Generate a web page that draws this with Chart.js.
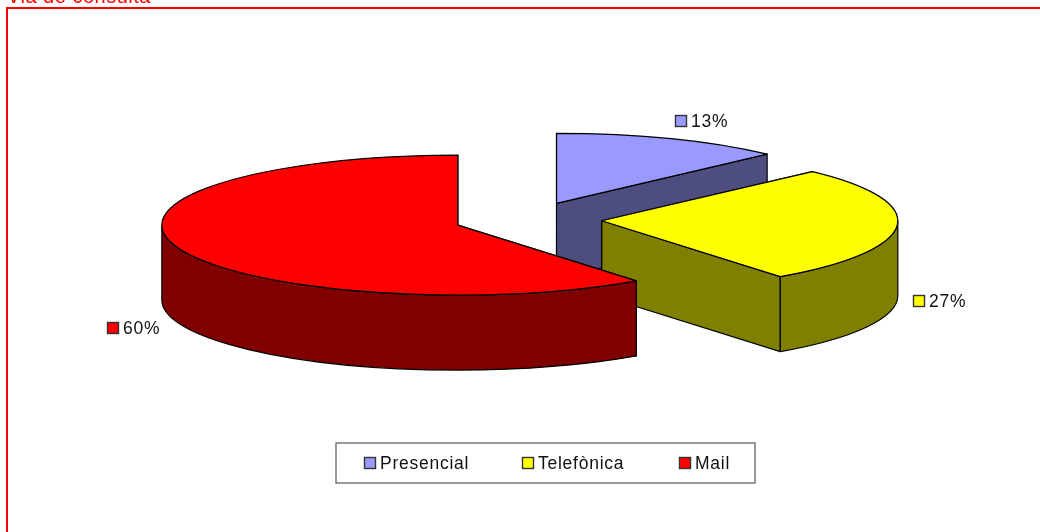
<!DOCTYPE html>
<html>
<head>
<meta charset="utf-8">
<title>Via de consulta</title>
<script src="https://cdn.jsdelivr.net/npm/chart.js@4"></script>
<style>
  html, body { margin: 0; padding: 0; background: #fff; overflow: hidden; }
  canvas { display: block; }
</style>
</head>
<body>
<canvas id="chart" width="1040" height="532"></canvas>
<script>
const chartTitle = 'Via de consulta';
const categories = ['Presencial', 'Telefònica', 'Mail'];
const shares = [12.6, 27.1, 60.3];
const topColors = ['#9999FF', '#FFFF00', '#FF0000'];
const sideColors = ['#4D4D80', '#808000', '#800000'];

// the squashed 3d look of the pie
const tilt = 0.2365;
const depth = 75;
const FONT = '17.5px "Liberation Sans", Arial, sans-serif';

// top left corner of the marker next to each percentage
const labelSpots = [[675, 115], [913, 295], [107, 322]];
const legendSpots = [364, 522, 679];

function marker(ctx, x, y, color) {
  ctx.fillStyle = color;
  ctx.fillRect(x, y, 12, 12);
  ctx.strokeStyle = '#333';
  ctx.lineWidth = 1.4;
  ctx.strokeRect(x + 0.5, y + 0.5, 11, 11);
}

function drawSlice(ctx, arc, i) {
  const { startAngle, endAngle, outerRadius: r } = arc;
  const off = arc.options.offset;
  const mid = (startAngle + endAngle) / 2;
  const cx = arc.x + off * Math.cos(mid);
  const cy = arc.y + tilt * off * Math.sin(mid);
  const px = a => cx + r * Math.cos(a);
  const py = a => cy + tilt * r * Math.sin(a);

  ctx.strokeStyle = '#000';
  ctx.lineWidth = 1.2;
  ctx.lineJoin = 'round';

  // cut faces
  [startAngle, endAngle].forEach(a => {
    ctx.beginPath();
    ctx.moveTo(cx, cy);
    ctx.lineTo(px(a), py(a));
    ctx.lineTo(px(a), py(a) + depth);
    ctx.lineTo(cx, cy + depth);
    ctx.closePath();
    ctx.fillStyle = sideColors[i];
    ctx.fill();
    ctx.stroke();
  });

  // outer wall, only the part that faces the viewer
  const from = Math.max(startAngle, 0);
  const to = Math.min(endAngle, Math.PI);
  if (to > from) {
    ctx.beginPath();
    ctx.ellipse(cx, cy, r, tilt * r, 0, from, to);
    ctx.ellipse(cx, cy + depth, r, tilt * r, 0, to, from, true);
    ctx.closePath();
    ctx.fillStyle = sideColors[i];
    ctx.fill();
    ctx.stroke();
  }

  // top
  ctx.beginPath();
  ctx.moveTo(cx, cy);
  ctx.ellipse(cx, cy, r, tilt * r, 0, startAngle, endAngle);
  ctx.closePath();
  ctx.fillStyle = topColors[i];
  ctx.fill();
  ctx.stroke();
}

const pie3d = {
  id: 'pie3d',
  beforeDatasetsDraw(chart) {
    const ctx = chart.ctx;
    ctx.save();
    chart.getDatasetMeta(0).data.forEach((arc, i) => drawSlice(ctx, arc, i));
    ctx.restore();
    return false;
  },
  afterDraw(chart) {
    const ctx = chart.ctx;
    ctx.save();

    // frame and cut off title
    ctx.strokeStyle = '#FF0000';
    ctx.lineWidth = 2;
    ctx.beginPath();
    ctx.moveTo(7, 533);
    ctx.lineTo(7, 8);
    ctx.lineTo(1041, 8);
    ctx.stroke();
    ctx.fillStyle = '#FF0000';
    ctx.font = '20px "Liberation Sans", Arial, sans-serif';
    ctx.letterSpacing = '0.5px';
    ctx.textBaseline = 'alphabetic';
    ctx.fillText(chartTitle, 7, 3);

    ctx.font = FONT;
    ctx.letterSpacing = '0.75px';

    // percentages, rounded as on the chart
    shares.forEach((v, i) => {
      const [x, y] = labelSpots[i];
      marker(ctx, x, y, topColors[i]);
      ctx.fillStyle = '#111';
      ctx.fillText(Math.round(v) + '%', x + 16, y + 12);
    });

    // legend
    ctx.strokeStyle = '#555';
    ctx.lineWidth = 1.2;
    ctx.strokeRect(336, 443, 419, 40);
    categories.forEach((name, i) => {
      marker(ctx, legendSpots[i], 457, topColors[i]);
      ctx.fillStyle = '#111';
      ctx.fillText(name, legendSpots[i] + 16, 469);
    });
    ctx.restore();
  }
};

new Chart(document.getElementById('chart'), {
  type: 'pie',
  data: {
    labels: categories,
    datasets: [{
      data: shares,
      backgroundColor: topColors,
      offset: 74
    }]
  },
  options: {
    responsive: false,
    animation: false,
    radius: 296,
    layout: { padding: { left: 16, bottom: 93 } },
    plugins: {
      legend: { display: false },
      tooltip: { enabled: false }
    }
  },
  plugins: [pie3d]
});
</script>
</body>
</html>
